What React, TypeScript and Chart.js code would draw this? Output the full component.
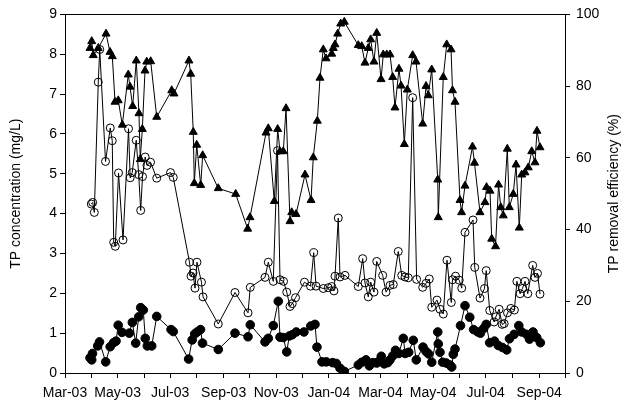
import React, { useEffect, useRef } from "react";
import { Chart, registerables } from "chart.js";

Chart.register(...registerables);

// x values are days since 1 March 2003
const monthStartDays = [0, 31, 61, 92, 122, 153, 184, 214, 245, 275, 306, 337, 366, 397, 427, 458, 488, 519, 550, 580];
const monthLabels = ["Mar-03", "Apr-03", "May-03", "Jun-03", "Jul-03", "Aug-03", "Sep-03", "Oct-03", "Nov-03", "Dec-03", "Jan-04", "Feb-04", "Mar-04", "Apr-04", "May-04", "Jun-04", "Jul-04", "Aug-04", "Sep-04", "Oct-04"];

const leftTicks = [0, 1, 2, 3, 4, 5, 6, 7, 8, 9];
const rightTicks = [0, 20, 40, 60, 80, 100];

const leftTitle = "TP concentration (mg/L)";
const rightTitle = "TP removal efficiency (%)";

// Open circles: TP concentration (influent)
const influentDays = [30.5, 32.1, 34, 38.6, 40.3, 47, 52.5, 54.8, 56.5, 58.3, 62.1, 67.3, 73.7, 75.6, 78, 82.6, 85.5, 87.8, 89.9, 93, 95.1, 99.2, 106.4, 122.4, 125.6, 144.4, 146.2, 148.5, 150.8, 153.1, 158.3, 160.1, 177.8, 197.2, 212.3, 214.9, 232, 235.8, 241.6, 246.5, 249.4, 253.5, 257.2, 261, 263.6, 267.4, 277.8, 284.8, 288.5, 291.2, 299.6, 305.4, 309.4, 312, 313.2, 317, 319, 324.8, 340.2, 345.3, 348, 351.8, 354.6, 358.4, 361.6, 368.5, 372.4, 377, 380.8, 386.6, 390.6, 394.4, 398.2, 403.3, 407.9, 414.9, 418.8, 422.6, 425.4, 431.5, 435, 438.8, 443.1, 448.1, 449.5, 453, 457.3, 460.2, 464, 473.3, 475.3, 481.4, 486.6, 488.6, 492.7, 497.8, 499.8, 503.6, 507.1, 509.4, 513.3, 517.2, 521.3, 524.2, 527.9, 530.6, 533.6, 536.8, 542.5, 545.2, 548.1, 551];
const influentTP = [4.24, 4.28, 4.03, 7.3, 8.12, 5.31, 6.15, 5.83, 3.28, 3.18, 5.02, 3.34, 6.13, 4.9, 5.03, 5.84, 4.98, 4.08, 4.93, 5.42, 5.21, 5.29, 4.89, 5.03, 4.91, 2.78, 2.43, 2.51, 2.13, 2.78, 2.28, 1.91, 1.23, 2.02, 1.51, 2.15, 2.4, 2.78, 2.3, 5.58, 2.34, 2.3, 2.03, 1.67, 1.74, 1.89, 2.28, 2.18, 3.02, 2.18, 2.12, 2.14, 2.17, 2.06, 2.43, 3.89, 2.41, 2.45, 2.17, 2.87, 2.26, 1.91, 2.28, 2.03, 2.8, 2.45, 2.03, 2.2, 2.22, 3.05, 2.45, 2.41, 2.39, 6.91, 2.35, 2.15, 2.25, 2.36, 1.65, 1.83, 1.6, 1.48, 2.83, 1.77, 2.34, 2.43, 2.33, 2.13, 3.53, 3.84, 2.65, 1.88, 2.12, 2.57, 1.57, 1.28, 1.41, 1.6, 1.22, 1.24, 1.51, 1.62, 1.58, 2.3, 1.99, 2.12, 2.3, 1.99, 2.7, 2.4, 2.5, 1.98];

// Filled circles: TP concentration (effluent)
const effluentDays = [29, 31, 31.9, 37.9, 40, 47.2, 52.4, 56.3, 59.2, 61.7, 66.1, 74.6, 78.1, 82, 85.5, 87.8, 90.8, 93.1, 95.5, 100.6, 106.4, 123, 125.6, 143.4, 147.5, 150.4, 153.4, 157.2, 159.5, 177.8, 197.2, 212.3, 214.9, 232, 235.8, 241.6, 247.4, 249.4, 253.2, 257.2, 260.2, 263.6, 268.3, 277.2, 285.1, 290, 292.3, 298.1, 303.1, 310.5, 314.7, 319, 324, 340.2, 344.2, 349.2, 353, 357.3, 361.6, 363.4, 366.9, 370.3, 374.4, 377, 380.2, 383.4, 387.2, 392.4, 394.6, 398.7, 404, 407.5, 415.3, 418.8, 421.7, 425.4, 432.4, 433, 435, 438.1, 442.3, 446.6, 448.6, 450.4, 452.4, 458.8, 464, 469.5, 474, 478.8, 481.9, 485.7, 488.6, 492.6, 498.2, 502.6, 507.5, 512.4, 515.6, 521, 526.4, 529.8, 535.6, 538.8, 542.9, 547.2, 551.4];
const effluentTP = [0.38, 0.33, 0.49, 0.68, 0.78, 0.28, 0.66, 0.76, 0.8, 1.2, 1.02, 1, 1.27, 0.75, 1.41, 1.64, 1.58, 0.87, 0.68, 0.68, 1.42, 1.09, 1.04, 0.35, 0.83, 0.98, 1.03, 1.09, 0.75, 0.59, 1, 0.91, 1.21, 0.78, 0.87, 1.19, 1.8, 0.9, 0.89, 0.53, 0.93, 0.96, 1.03, 1.03, 1.18, 1.22, 0.65, 0.28, 0.28, 0.26, 0.24, 0.12, 0.04, 0.2, 0.27, 0.33, 0.18, 0.26, 0.25, 0.28, 0.42, 0.23, 0.26, 0.33, 0.43, 0.57, 0.49, 0.87, 0.49, 0.52, 0.82, 0.33, 0.65, 0.54, 0.48, 0.27, 1.03, 0.73, 0.52, 0.27, 0.25, 0.2, 0.15, 0.47, 0.6, 1.19, 1.69, 1.4, 1.09, 1.03, 1, 1.12, 1.22, 0.76, 0.8, 0.69, 0.64, 0.58, 0.86, 0.97, 1.19, 1.03, 0.97, 0.85, 1.03, 0.89, 0.76];

// Triangles: TP removal efficiency (%)
const removalDays = [29, 31, 32.8, 38.6, 47.6, 52.2, 54.9, 58, 61.8, 66.5, 73.4, 75.4, 78.5, 82.7, 85.8, 87.3, 89.7, 92.8, 94.8, 99.4, 106.4, 123.8, 126.4, 143.8, 145.8, 148.8, 150, 152.8, 157.4, 159.7, 177.8, 198, 211.9, 214.6, 233.2, 235.8, 242.8, 246.7, 249.4, 253.2, 256.4, 261, 263, 268, 278.4, 285.4, 288, 292.7, 295.8, 299.6, 302.8, 309.4, 311.2, 313.2, 316.3, 319.8, 324, 340.2, 344.2, 348, 351.8, 354.6, 358.4, 361.6, 366.6, 369.2, 373.2, 377, 380.1, 382.8, 387.4, 389.8, 393.6, 397.1, 403.3, 407.2, 414.9, 418.8, 421.4, 425.4, 432.4, 433, 438.8, 442.8, 447.8, 449.5, 452.4, 458.2, 460, 464, 472.7, 475, 481.4, 487.2, 489, 493, 495, 499.4, 502.9, 505.5, 508.4, 513.1, 515.4, 520, 523.2, 527, 529.8, 533.6, 537.4, 541.4, 545.2, 547.5, 551];
const removalPct = [90.6, 92.5, 88.6, 90.6, 94.6, 89.5, 88.3, 75.6, 76, 69.2, 83.2, 79.8, 74.4, 87.1, 72.4, 59.6, 68, 84.3, 86.8, 86.9, 71.4, 78.8, 77.9, 87.1, 83.4, 67.2, 52.9, 63.6, 52.4, 60.7, 51.5, 49.9, 40.2, 43.4, 67, 68.2, 47.9, 68, 61.8, 61.8, 73.8, 42.3, 44.8, 44.3, 55.3, 48.2, 60.1, 70.3, 82.3, 90.2, 87.7, 89, 90.6, 91.6, 94.6, 97.4, 97.9, 91.4, 91.1, 86.5, 90.6, 93, 86.8, 94.8, 81.9, 88.8, 88.8, 88.8, 82.5, 74, 84.8, 80.1, 63.8, 79, 88.6, 86.8, 69.5, 80, 77.4, 84.6, 53.9, 43.4, 82.5, 91.6, 90.2, 78.8, 75.6, 48.2, 44.8, 52.2, 63.1, 58.6, 44.8, 47.6, 51.8, 50.8, 37.4, 35.3, 52.5, 46.2, 43.9, 62.5, 46.2, 49.9, 58.1, 40.5, 55.3, 55.9, 57.3, 61.8, 58.7, 67.5, 62.9];

const FONT = "'Liberation Sans', Arial, Helvetica, sans-serif";

const toPoints = (xs: number[], ys: number[]) => xs.map((x, i) => ({ x, y: ys[i] }));

export default function App() {
  const canvasRef = useRef<HTMLCanvasElement | null>(null);

  useEffect(() => {
    const canvas = canvasRef.current;
    if (!canvas) return;

    const framePlugin = {
      id: "frameAndRightTitle",
      afterDraw(chart: any) {
        const { ctx, chartArea } = chart;
        ctx.save();
        ctx.strokeStyle = "#000";
        ctx.lineWidth = 1;
        ctx.beginPath();
        ctx.moveTo(chartArea.left, Math.round(chartArea.top) + 0.5);
        ctx.lineTo(chartArea.right, Math.round(chartArea.top) + 0.5);
        ctx.stroke();
        ctx.translate(614, (chartArea.top + chartArea.bottom) / 2);
        ctx.rotate(-Math.PI / 2);
        ctx.textAlign = "center";
        ctx.textBaseline = "middle";
        ctx.fillStyle = "#000";
        ctx.font = `14px ${FONT}`;
        ctx.fillText(rightTitle, 0, 0);
        ctx.restore();
      },
    };

    const chart = new Chart(canvas, {
      type: "line",
      data: {
        datasets: [
          {
            label: "Removal efficiency",
            data: toPoints(removalDays, removalPct),
            yAxisID: "y2",
            borderColor: "#000",
            borderWidth: 1,
            pointStyle: "triangle",
            pointRadius: 4.6,
            pointBackgroundColor: "#000",
            pointBorderColor: "#000",
            pointBorderWidth: 1,
            tension: 0,
          },
          {
            label: "Influent TP",
            data: toPoints(influentDays, influentTP),
            yAxisID: "y",
            borderColor: "#000",
            borderWidth: 1,
            pointStyle: "circle",
            pointRadius: 4,
            pointBackgroundColor: "rgba(0,0,0,0)",
            pointBorderColor: "#000",
            pointBorderWidth: 1,
            tension: 0,
          },
          {
            label: "Effluent TP",
            data: toPoints(effluentDays, effluentTP),
            yAxisID: "y",
            borderColor: "#000",
            borderWidth: 1,
            pointStyle: "circle",
            pointRadius: 4.3,
            pointBackgroundColor: "#000",
            pointBorderColor: "#000",
            pointBorderWidth: 1,
            tension: 0,
          },
        ],
      },
      options: {
        responsive: false,
        animation: false,
        events: [],
        layout: { padding: { top: 13, left: 0, right: 0, bottom: 0 } },
        plugins: {
          legend: { display: false },
          tooltip: { enabled: false },
        },
        scales: {
          x: {
            type: "linear",
            min: monthStartDays[0],
            max: monthStartDays[monthStartDays.length - 1],
            afterBuildTicks: (scale: any) => {
              scale.ticks = monthStartDays.map((v) => ({ value: v }));
            },
            afterFit: (scale: any) => {
              scale.height = 32;
            },
            grid: {
              drawOnChartArea: false,
              drawTicks: true,
              tickLength: 5,
              color: "#000",
              lineWidth: 1,
            },
            border: { display: true, color: "#000", width: 1 },
            ticks: {
              autoSkip: false,
              maxRotation: 0,
              minRotation: 0,
              padding: 7,
              color: "#000",
              font: { family: FONT, size: 14 },
              callback: (value: any) => {
                const i = monthStartDays.indexOf(Number(value));
                return i >= 0 && i % 2 === 0 && i < monthLabels.length - 1 ? monthLabels[i] : "";
              },
            },
          },
          y: {
            type: "linear",
            position: "left",
            min: leftTicks[0],
            max: leftTicks[leftTicks.length - 1],
            afterBuildTicks: (scale: any) => {
              scale.ticks = leftTicks.map((v) => ({ value: v }));
            },
            afterFit: (scale: any) => {
              scale.width = 65;
            },
            grid: {
              drawOnChartArea: false,
              drawTicks: true,
              tickLength: 5,
              color: "#000",
              lineWidth: 1,
            },
            border: { display: true, color: "#000", width: 1 },
            ticks: {
              padding: 3,
              color: "#000",
              font: { family: FONT, size: 14 },
            },
            title: {
              display: true,
              text: leftTitle,
              color: "#000",
              font: { family: FONT, size: 14, weight: "normal" },
              padding: { top: 8, bottom: 0 },
            },
          },
          y2: {
            type: "linear",
            position: "right",
            min: rightTicks[0],
            max: rightTicks[rightTicks.length - 1],
            afterBuildTicks: (scale: any) => {
              scale.ticks = rightTicks.map((v) => ({ value: v }));
            },
            afterFit: (scale: any) => {
              scale.width = 66;
            },
            grid: {
              drawOnChartArea: false,
              drawTicks: true,
              tickLength: 5,
              color: "#000",
              lineWidth: 1,
            },
            border: { display: true, color: "#000", width: 1 },
            ticks: {
              padding: 6,
              color: "#000",
              font: { family: FONT, size: 14 },
            },
          },
        },
      },
      plugins: [framePlugin],
    } as any);

    return () => {
      chart.destroy();
    };
  }, []);

  return (
    <div style={{ position: "absolute", left: 0, top: 0, width: 631, height: 405, background: "#fff" }}>
      <canvas ref={canvasRef} width={631} height={405} style={{ display: "block" }} />
    </div>
  );
}
